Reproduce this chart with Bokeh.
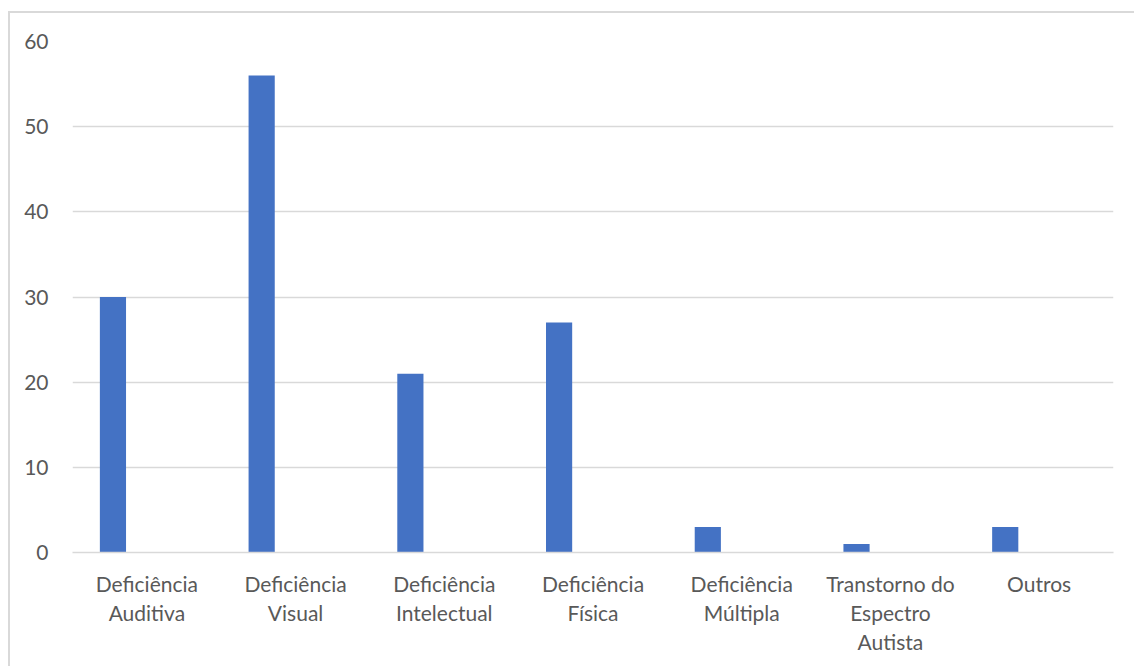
from bokeh.plotting import figure
from bokeh.models import FactorRange, Range1d, ColumnDataSource, SingleIntervalTicker
from bokeh.transform import dodge
from bokeh.embed import file_html
from bokeh.resources import INLINE

categories = ["Deficiência\nAuditiva", "Deficiência\nVisual", "Deficiência\nIntelectual",
              "Deficiência\nFísica", "Deficiência\nMúltipla", "Transtorno do\nEspectro\nAutista", "Outros"]
values = [30, 56, 21, 27, 3, 1, 3]

src = ColumnDataSource(dict(cat=categories, val=values))

W, H = 1126, 655
p = figure(width=W, height=H, x_range=FactorRange(*categories), y_range=Range1d(0, 60),
           output_backend="svg", toolbar_location=None,
           min_border_left=62, min_border_right=23, min_border_top=28, min_border_bottom=116)
p.margin = (11, 0, 0, 8)
p.styles = {"border-left": "2px solid #d9d9d9", "border-top": "2px solid #d9d9d9"}
p.x_range.range_padding = 0
p.outline_line_color = None
p.background_fill_color = "white"
p.border_fill_color = "white"

p.vbar(x=dodge("cat", -0.228, range=p.x_range), top="val", width=0.176, source=src,
       fill_color="#4472c4", line_color=None)

p.xgrid.grid_line_color = None
p.ygrid.grid_line_color = "#d9d9d9"
p.ygrid.grid_line_width = 1.5
p.yaxis.ticker = SingleIntervalTicker(interval=10)
p.yaxis.axis_line_color = None
p.yaxis.major_tick_line_color = None
p.yaxis.minor_tick_line_color = None
p.yaxis.major_label_standoff = 18
p.xaxis.axis_line_color = "#d9d9d9"
p.xaxis.axis_line_width = 1.5
p.xaxis.major_tick_line_color = None
p.xaxis.minor_tick_line_color = None
p.xaxis.major_label_standoff = 12
p.xaxis.major_label_text_line_height = 1.16
for ax in (p.xaxis, p.yaxis):
    ax.major_label_text_font = "Lato"
    ax.major_label_text_font_size = "21px"
    ax.major_label_text_color = "#595959"

open("out.html", "w").write(file_html(p, INLINE))
